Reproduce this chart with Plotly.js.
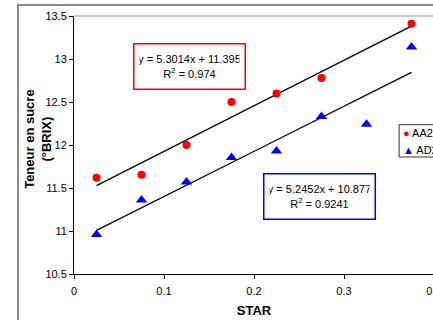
<!DOCTYPE html>
<html><head><meta charset="utf-8">
<script src="https://cdn.plot.ly/plotly-3.0.1.min.js"></script>
<style>
html,body{margin:0;padding:0;width:433px;height:320px;overflow:hidden;background:#fff;}
#frame{position:absolute;left:17px;top:4px;width:500px;height:400px;border-left:2px solid #8c8c8c;border-top:2px solid #8c8c8c;pointer-events:none;}
#plot{position:absolute;left:0;top:0;width:480px;height:320px;}
</style></head>
<body>
<div id="plot"></div>
<div id="frame"></div>
<script>
var xAA2 = [0.025, 0.075, 0.125, 0.175, 0.225, 0.275, 0.375];
var yAA2 = [11.62, 11.655, 12.0, 12.5, 12.6, 12.78, 13.41];
var xAD2 = [0.025, 0.075, 0.125, 0.175, 0.225, 0.275, 0.325, 0.375];
var yAD2 = [10.96, 11.36, 11.57, 11.855, 11.93, 12.33, 12.24, 13.14];
var slopeAA2 = 5.3014, interceptAA2 = 11.395;
var slopeAD2 = 5.2452, interceptAD2 = 10.877;
var eqAA2 = "y = 5.3014x + 11.395<br>R<sup>2</sup> = 0.974";
var eqAD2 = "y = 5.2452x + 10.877<br>R<sup>2</sup> = 0.9241";
var seriesNames = ['AA2', 'AD2'];
var xTicks = [0, 0.1, 0.2, 0.3, 0.4];
var yTicks = [10.5, 11, 11.5, 12, 12.5, 13, 13.5];

function lineX(xs){ return [Math.min.apply(null, xs), Math.max.apply(null, xs)]; }
var lxA = lineX(xAA2), lxD = lineX(xAD2);

var traces = [
  {x: lxA, y: lxA.map(function(v){return slopeAA2*v+interceptAA2;}), mode:'lines', line:{color:'#000', width:1.3}, showlegend:false, hoverinfo:'skip'},
  {x: lxD, y: lxD.map(function(v){return slopeAD2*v+interceptAD2;}), mode:'lines', line:{color:'#000', width:1.3}, showlegend:false, hoverinfo:'skip'},
  {x: xAA2, y: yAA2, name:seriesNames[0], mode:'markers', marker:{symbol:'circle', size:8, color:'#ff0000'}, showlegend:false},
  {x: xAD2, y: yAD2, name:seriesNames[1], mode:'markers', marker:{symbol:'triangle-up', size:10, color:'#0000ff'}, showlegend:false}
];

var font = {family:'Liberation Sans, Arial, sans-serif', color:'#000'};
var layout = {
  width:480, height:320,
  margin:{l:74, r:46, t:16, b:46},
  paper_bgcolor:'rgba(0,0,0,0)', plot_bgcolor:'#fff',
  font:{family:font.family, size:11, color:'#000'},
  showlegend:false,
  xaxis:{range:[0,0.4], tickvals:xTicks, ticktext:xTicks.map(String), ticks:'outside', ticklen:4, tickcolor:'#000',
         showgrid:false, zeroline:false, showline:true, linecolor:'#000', linewidth:1, ticklabelstandoff:3,
         title:{text:'<b>STAR</b>', font:{size:13}, standoff:9}, tickfont:{size:11}},
  yaxis:{range:[10.5,13.5], tickvals:yTicks, ticktext:yTicks.map(String), ticks:'outside', ticklen:4, tickcolor:'#000',
         showgrid:false, zeroline:false, showline:true, linecolor:'#000', linewidth:1, tickfont:{size:11}},
  shapes:[
    {type:'line', xref:'paper', yref:'paper', x0:0, x1:1.05, y0:1, y1:1, line:{color:'#999', width:1}},
    {type:'rect', xref:'paper', yref:'paper', x0:0.903, x1:1.2, y0:0.4535, y1:0.5787, line:{color:'#333', width:1}, fillcolor:'#fff'}
  ],
  annotations:[
    {xref:'paper', yref:'paper', x:-0.1, y:0.52, xanchor:'center', yanchor:'middle', text:'<b>Teneur en sucre<br>(°BRIX)</b>', textangle:-90,
     showarrow:false, font:{size:13}, align:'center'},
    {xref:'paper', yref:'paper', x:0.3215, y:0.806, xanchor:'center', yanchor:'middle', text:eqAA2, showarrow:false, font:{size:11},
     bordercolor:'#ff0000', borderwidth:1.5, bgcolor:'#fff', borderpad:5, width:100, height:34, align:'center'},
    {xref:'paper', yref:'paper', x:0.682, y:0.300, xanchor:'center', yanchor:'middle', text:eqAD2, showarrow:false, font:{size:11},
     bordercolor:'#0000ff', borderwidth:1.5, bgcolor:'#fff', borderpad:5, width:100, height:34, align:'center'},
    {xref:'paper', yref:'paper', x:0.908, y:0.5465, xanchor:'left', yanchor:'middle', showarrow:false, font:{size:11},
     text:'<span style="color:#ff0000">●</span> ' + seriesNames[0]},
    {xref:'paper', yref:'paper', x:0.908, y:0.4806, xanchor:'left', yanchor:'middle', showarrow:false, font:{size:11},
     text:'<span style="color:#0000ff">▲</span> ' + seriesNames[1]}
  ]
};
Plotly.newPlot('plot', traces, layout, {displayModeBar:false, staticPlot:true});
</script>
</body></html>
